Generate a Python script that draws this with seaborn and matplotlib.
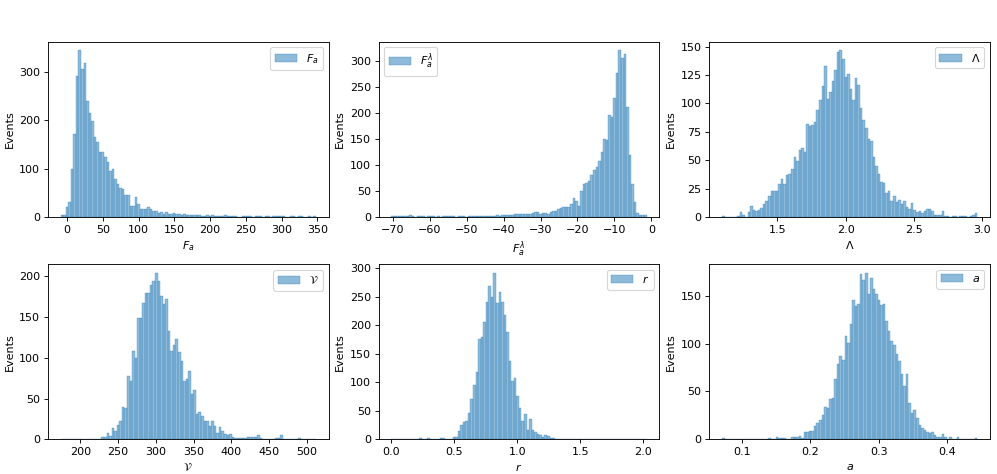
import matplotlib
matplotlib.use("Agg")
import matplotlib.pyplot as plt
import numpy as np
import seaborn as sns

# bin counts, 100 bins per panel
fa_range = (-9.0, 348.0)
fa_counts = [4, 4, 21, 30, 99, 171, 292, 346, 306, 319,
             240, 215, 198, 165, 155, 134, 134, 125, 114, 95,
             100, 79, 69, 60, 58, 46, 46, 23, 23, 41,
             26, 17, 17, 17, 20, 17, 13, 12, 8, 10,
             6, 10, 7, 6, 8, 5, 5, 4, 5, 4,
             4, 3, 3, 3, 3, 2, 2, 3, 2, 3,
             1, 1, 1, 1, 3, 1, 1, 1, 1, 0,
             0, 1, 1, 1, 1, 0, 2, 1, 1, 0,
             1, 1, 0, 1, 1, 2, 1, 1, 0, 0,
             1, 1, 0, 1, 1, 0, 0, 1, 0, 1]

fal_range = (-70.4, -1.3)
fal_counts = [1, 1, 1, 1, 2, 1, 1, 3, 1, 0,
              1, 1, 2, 0, 1, 1, 1, 0, 1, 0,
              1, 1, 1, 1, 2, 0, 1, 1, 1, 0,
              1, 1, 2, 1, 1, 2, 1, 1, 2, 2,
              2, 3, 2, 3, 4, 3, 4, 4, 5, 5,
              5, 5, 6, 6, 5, 7, 10, 9, 6, 8,
              8, 6, 9, 11, 12, 15, 18, 19, 20, 20,
              25, 36, 30, 22, 50, 63, 65, 70, 80, 90,
              97, 108, 125, 150, 148, 197, 193, 229, 277, 322,
              307, 315, 212, 119, 63, 28, 8, 4, 3, 3]

lam_range = (1.096, 2.963)
lam_counts = [1, 0, 0, 0, 0, 0, 1, 4, 2, 0,
              4, 10, 6, 5, 6, 8, 11, 14, 18, 23,
              23, 23, 29, 33, 29, 37, 38, 42, 53, 49,
              59, 61, 57, 82, 80, 81, 84, 94, 103, 115,
              133, 104, 110, 120, 129, 145, 147, 139, 123, 126,
              113, 103, 122, 116, 96, 85, 78, 69, 67, 53,
              45, 38, 31, 30, 21, 23, 14, 18, 13, 15,
              11, 14, 9, 7, 12, 6, 4, 5, 3, 5,
              7, 7, 5, 2, 2, 2, 5, 1, 1, 0,
              1, 1, 0, 1, 1, 1, 0, 1, 2, 3]

v_range = (174.1, 511.8)
v_counts = [1, 0, 0, 0, 0, 0, 0, 0, 0, 0,
            0, 0, 0, 0, 0, 0, 3, 3, 8, 4,
            14, 10, 18, 22, 40, 39, 77, 71, 108, 100,
            148, 148, 167, 179, 179, 189, 194, 204, 194, 175,
            165, 172, 132, 108, 116, 123, 107, 96, 71, 74,
            84, 55, 61, 31, 33, 29, 22, 23, 16, 22,
            16, 8, 15, 10, 7, 5, 6, 3, 2, 2,
            2, 2, 2, 3, 3, 3, 3, 5, 2, 0,
            0, 0, 0, 0, 2, 2, 5, 0, 0, 0,
            0, 0, 0, 2, 0, 0, 0, 0, 0, 1]

r_range = (0.001, 2.026)
r_counts = [1, 1, 0, 1, 0, 0, 0, 1, 1, 0,
            1, 2, 0, 1, 2, 1, 1, 0, 0, 2,
            2, 0, 1, 1, 5, 5, 14, 25, 30, 32,
            47, 70, 96, 118, 176, 180, 206, 240, 268, 250,
            292, 238, 258, 240, 217, 188, 138, 103, 107, 76,
            55, 33, 44, 16, 36, 16, 13, 10, 7, 4,
            7, 6, 2, 2, 1, 0, 0, 0, 0, 1,
            0, 0, 1, 0, 1, 0, 0, 0, 0, 0,
            0, 0, 0, 0, 0, 0, 0, 0, 0, 0,
            0, 0, 0, 0, 0, 0, 0, 0, 0, 1]

a_range = (0.0715, 0.4436)
a_counts = [1, 0, 0, 0, 0, 0, 0, 0, 0, 0,
            0, 0, 0, 0, 0, 0, 0, 0, 1, 0,
            0, 2, 1, 1, 1, 0, 0, 3, 3, 2,
            4, 1, 8, 8, 9, 9, 14, 17, 20, 25,
            34, 33, 42, 43, 63, 79, 87, 83, 108, 101,
            120, 145, 139, 141, 173, 166, 174, 152, 168, 157,
            152, 145, 140, 141, 123, 113, 103, 98, 89, 82,
            68, 56, 68, 38, 28, 31, 22, 15, 12, 10,
            8, 7, 8, 5, 3, 2, 6, 2, 0, 3,
            0, 0, 3, 0, 0, 0, 0, 0, 0, 1]

labels = [r'$F_a$', r'$F_a^\lambda$', r'$\Lambda$',
          r'$\mathcal{V}$', r'$r$', r'$a$']
ranges = [fa_range, fal_range, lam_range, v_range, r_range, a_range]
counts = [fa_counts, fal_counts, lam_counts, v_counts, r_counts, a_counts]

# figure drawn at 80 dpi so points scale like the original
fig, axes = plt.subplots(2, 3, figsize=(997 / 80, 474 / 80), dpi=80)
plt.subplots_adjust(left=0.048, right=0.993, top=0.912, bottom=0.073,
                    wspace=0.178, hspace=0.27)

for ax, lab, rng, cnt in zip(axes.flat, labels, ranges, counts):
    nb = len(cnt)
    w = (rng[1] - rng[0]) / nb
    centers = rng[0] + w * (np.arange(nb) + 0.5)
    sns.histplot(x=centers, weights=np.array(cnt, dtype=float), bins=nb,
                 binrange=rng, ax=ax, label=lab, alpha=0.5,
                 edgecolor='#1f77b4', linewidth=0.25)
    ax.set_xlabel(lab)
    ax.set_ylabel('Events')
    ax.legend()

plt.savefig('out.png', dpi=80)
